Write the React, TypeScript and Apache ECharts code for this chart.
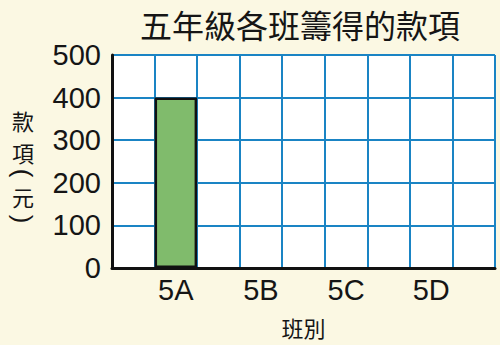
import React, { useEffect, useRef } from "react";
import * as echarts from "echarts";

const title = "五年級各班籌得的款項";
const classes = ["5A", "5B", "5C", "5D"];
const amounts: (number | null)[] = [400, null, null, null];
const yTicks = { min: 0, max: 500, interval: 100 };
const xAxisName = "班別";
const yAxisNameChars = ["款", "項", "(", "元", ")"];

// 9 equal slots: a blank slot before each class and one at the end
const slots: string[] = [];
const slotValues: (number | null)[] = [];
classes.forEach((c, i) => {
  slots.push("");
  slotValues.push(null);
  slots.push(c);
  slotValues.push(amounts[i]);
});
slots.push("");
slotValues.push(null);

const BLUE = "#1a84c4";
const CJK = '"Noto Sans CJK TC", "Noto Sans CJK SC", sans-serif';
const LATIN = '"Liberation Sans", Arial, sans-serif';

// vertical y-axis name layout (centre y of each char); brackets turned to read vertically
const nameYs = [120, 152, 173, 196, 219];

export default function App() {
  const ref = useRef<HTMLDivElement>(null);
  useEffect(() => {
    if (!ref.current) return;
    const chart = echarts.init(ref.current, null, { renderer: "svg" });
    chart.setOption({
      animation: false,
      backgroundColor: "#fbf8e3",
      title: {
        text: title,
        left: 135,
        top: 3,
        textStyle: { fontFamily: CJK, fontSize: 32, fontWeight: "normal", color: "#151515" },
      },
      grid: {
        left: 112,
        right: 5,
        top: 55,
        bottom: 77,
        show: true,
        backgroundColor: "#ffffff",
        borderWidth: 0,
      },
      xAxis: {
        type: "category",
        data: slots,
        boundaryGap: true,
        name: xAxisName,
        nameLocation: "middle",
        nameGap: 48,
        nameTextStyle: { fontFamily: CJK, fontSize: 22, color: "#151515" },
        axisLine: { show: true, lineStyle: { color: "#111", width: 3 } },
        axisTick: { show: false },
        axisLabel: { interval: 0, margin: 7, fontFamily: LATIN, fontSize: 29, color: "#151515" },
        splitLine: { show: true, interval: 0, lineStyle: { color: BLUE, width: 2 } },
      },
      yAxis: {
        type: "value",
        min: yTicks.min,
        max: yTicks.max,
        interval: yTicks.interval,
        axisLine: { show: true, lineStyle: { color: "#111", width: 3 } },
        axisTick: { show: false },
        axisLabel: { margin: 11, fontFamily: LATIN, fontSize: 29, color: "#151515" },
        splitLine: { show: true, lineStyle: { color: BLUE, width: 2 } },
      },
      graphic: yAxisNameChars.map((ch, i) => {
        const bracket = ch === "(" || ch === ")";
        return {
          type: "group",
          x: 23,
          y: nameYs[i],
          rotation: bracket ? -Math.PI / 2 : 0,
          children: [
            {
              type: "text",
              x: 0,
              y: 0,
              style: {
                text: ch,
                fontFamily: bracket ? LATIN : CJK,
                fontSize: bracket ? 26 : 22,
                fill: "#151515",
                align: "center",
                verticalAlign: "middle",
              },
            },
          ],
        };
      }),
      series: [
        {
          type: "bar",
          data: slotValues,
          barWidth: "100%",
          barCategoryGap: 0,
          itemStyle: { color: "#80bb6c", borderColor: "#111", borderWidth: 2.5 },
        },
      ],
    });
    return () => chart.dispose();
  }, []);
  return <div ref={ref} style={{ width: 500, height: 345, position: "fixed", left: 0, top: 0 }} />;
}
